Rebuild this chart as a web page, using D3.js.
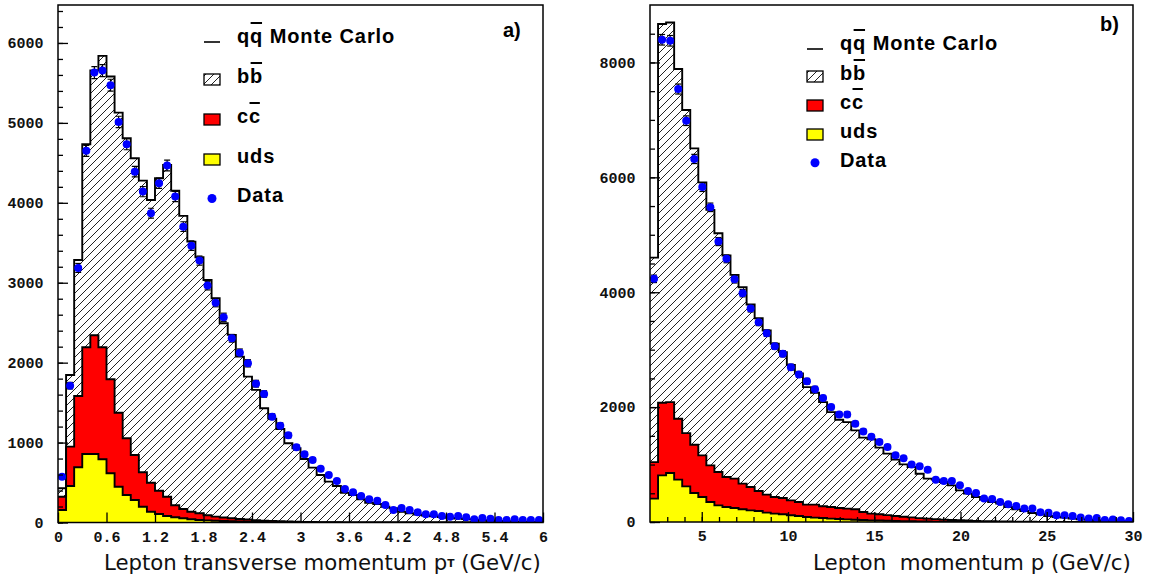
<!DOCTYPE html>
<html><head><meta charset="utf-8">
<script src="https://cdn.jsdelivr.net/npm/d3@7"></script>
<style>body{margin:0;background:#fff}svg{display:block}</style>
</head><body>
<svg id="c" width="1149" height="582"></svg>
<script>
// ---------------- data: panel a) lepton pT, 60 bins 0..6 GeV/c ----------------
const leftRange = [0, 6];
const leftUds = [156,457,691,857,857,791,616,448,344,282,198,135,106,81,65,53,40,31,26,22,18,15,12,10,8,6,5,4,3,2,2,1,1,1,0,0,0,0,0,0,0,0,0,0,0,0,0,0,0,0,0,0,0,0,0,0,0,0,0,0];
const leftCc = [167,492,892,1336,1486,1402,1176,926,710,563,430,363,292,242,150,116,95,84,64,51,45,38,32,27,22,18,15,12,10,8,6,5,4,3,3,2,2,1,1,1,0,0,0,0,0,0,0,0,0,0,0,0,0,0,0,0,0,0,0,0];
const leftBb = [105,897,1702,2540,3312,3646,3788,3755,3754,3713,3650,3538,3910,4151,3935,3667,3379,3204,2945,2733,2430,2294,2031,1788,1630,1406,1280,1154,978,919,787,680,589,507,454,371,342,289,247,231,198,178,135,115,100,88,78,68,58,50,42,36,30,25,20,16,13,10,8,6];
const leftData = [573,1712,3185,4650,5630,5655,5472,5012,4733,4390,4140,3870,4245,4466,4078,3702,3464,3277,2964,2751,2568,2305,2125,1992,1737,1608,1324,1212,1091,941,853,782,673,594,519,419,378,332,290,273,219,156,181,156,128,103,103,81,73,81,65,40,56,48,31,31,40,31,31,31];
const leftErr = [24,41,56,68,75,75,74,71,69,66,64,62,65,67,64,61,59,57,54,52,51,48,46,45,42,40,36,35,33,31,29,28,26,24,23,20,19,18,17,17,15,12,13,12,11,10,10,9,9,9,8,6,7,7,6,6,6,6,6,6];
const leftXTicks = [0,0.6,1.2,1.8,2.4,3,3.6,4.2,4.8,5.4,6];
const leftYTicks = [0,1000,2000,3000,4000,5000,6000];
const leftYMax = 6475;

// ---------------- data: panel b) lepton p, 60 bins 2..30 GeV/c ----------------
const rightRange = [2, 30];
const rightUds = [407,812,852,737,621,504,435,348,290,261,243,221,203,191,163,146,134,117,104,87,77,70,59,52,46,40,34,29,25,21,18,15,12,10,8,6,5,4,3,2,2,1,1,1,0,0,0,0,0,0,0,0,0,0,0,0,0,0,0,0];
const rightCc = [636,1265,1235,1061,927,842,725,638,580,522,512,447,406,348,314,289,283,260,244,216,226,203,202,191,187,181,140,117,109,99,87,77,68,58,50,44,37,32,27,23,18,15,11,9,8,6,5,4,3,2,2,1,1,1,0,0,0,0,0,0];
const rightBb = [3560,6591,6609,6087,5624,5158,4753,4447,4156,3855,3547,3419,3177,3009,2857,2668,2540,2357,2238,2045,1947,1814,1652,1538,1506,1374,1294,1294,1160,1070,980,911,877,773,697,687,654,602,521,469,415,374,336,310,253,215,186,153,131,102,85,76,58,47,40,32,25,18,12,8];
const rightData = [4233,8395,8377,7537,6986,6320,5830,5478,4882,4581,4226,3983,3717,3478,3287,3061,2929,2696,2569,2450,2313,2157,2000,1873,1873,1711,1577,1484,1391,1304,1160,1108,1003,969,911,737,713,713,638,539,504,407,400,348,308,278,233,233,169,163,117,117,104,77,59,70,35,42,30,17];
const rightErr = [65,92,92,87,84,80,76,74,70,68,65,63,61,59,57,55,54,52,51,49,48,46,45,43,43,41,40,39,37,36,34,33,32,31,30,27,27,27,25,23,22,20,20,19,18,17,15,15,13,13,11,11,10,9,8,8,6,6,5,4];
const rightXTicks = [5,10,15,20,25,30];
const rightYTicks = [0,2000,4000,6000,8000];
const rightYMax = 9000;

const legendLabels = [
  {text: "qq Monte Carlo", bar: 1, kind: "line"},
  {text: "bb", bar: 1, kind: "bb"},
  {text: "cc", bar: 1, kind: "cc"},
  {text: "uds", bar: -1, kind: "uds"},
  {text: "Data", bar: -1, kind: "data"}
];

const COL = {uds: "#ffff00", cc: "#ff0000", bb: "url(#hatch)", data: "#0000ff"};

const svg = d3.select("#c");
const defs = svg.append("defs");
const pat = defs.append("pattern").attr("id", "hatch")
  .attr("patternUnits", "userSpaceOnUse").attr("width", 8).attr("height", 8);
pat.append("rect").attr("width", 8).attr("height", 8).attr("fill", "#fff");
pat.append("path").attr("d", "M-2,2L2,-2M0,8L8,0M6,10L10,6")
  .attr("stroke", "#222").attr("stroke-width", 1);

function panel(cfg) {
  const g = svg.append("g");
  const x = d3.scaleLinear().domain(cfg.xRange).range([cfg.left, cfg.right]);
  const y = d3.scaleLinear().domain([0, cfg.yMax]).range([cfg.bottom, cfg.top]);
  const n = cfg.data.length;
  const bw = (cfg.xRange[1] - cfg.xRange[0]) / n;
  const edge = i => x(cfg.xRange[0] + i * bw);
  const clipId = "clip" + cfg.id;
  defs.append("clipPath").attr("id", clipId).append("rect")
    .attr("x", cfg.left).attr("y", cfg.top)
    .attr("width", cfg.right - cfg.left).attr("height", cfg.bottom - cfg.top);
  const pg = g.append("g").attr("clip-path", `url(#${clipId})`);

  const rows = d3.range(n).map(i => ({uds: cfg.uds[i], cc: cfg.cc[i], bb: cfg.bb[i]}));
  const stacked = d3.stack().keys(["uds", "cc", "bb"])(rows);
  const idx = d3.range(n + 1);
  const at = (layer, i) => layer[Math.min(i, n - 1)];
  stacked.forEach(layer => {
    const area = d3.area().curve(d3.curveStepAfter)
      .x(i => edge(i)).y0(i => y(at(layer, i)[0])).y1(i => y(at(layer, i)[1]));
    pg.append("path").attr("d", area(idx)).attr("fill", COL[layer.key]);
  });
  stacked.forEach(layer => {
    const line = d3.line().curve(d3.curveStepAfter)
      .x(i => edge(i)).y(i => y(at(layer, i)[1]));
    pg.append("path").attr("d", line(idx)).attr("fill", "none")
      .attr("stroke", "#000").attr("stroke-width", 1.9);
  });

  // data with error bars
  const cx = i => x(cfg.xRange[0] + (i + 0.5) * bw);
  const eg = pg.append("g").attr("stroke", "#000").attr("stroke-width", 1.2);
  cfg.data.forEach((d, i) => {
    const e = cfg.err[i];
    eg.append("line").attr("x1", cx(i)).attr("x2", cx(i)).attr("y1", y(d - e)).attr("y2", y(d + e));
    eg.append("line").attr("x1", cx(i) - 3).attr("x2", cx(i) + 3).attr("y1", y(d - e)).attr("y2", y(d - e));
    eg.append("line").attr("x1", cx(i) - 3).attr("x2", cx(i) + 3).attr("y1", y(d + e)).attr("y2", y(d + e));
  });
  pg.append("g").selectAll("circle").data(cfg.data).join("circle")
    .attr("cx", (d, i) => cx(i)).attr("cy", d => y(d)).attr("r", 4)
    .attr("fill", COL.data);

  // axes
  const fmt = v => String(v);
  const xa = g.append("g").attr("transform", `translate(0,${cfg.bottom})`)
    .call(d3.axisBottom(x).tickValues(cfg.xTicks).tickFormat(fmt).tickSizeInner(-10).tickSizeOuter(0).tickPadding(8.5));
  if (cfg.xMinor) {
    g.append("g").attr("transform", `translate(0,${cfg.bottom})`)
      .call(d3.axisBottom(x).tickValues(cfg.xMinor).tickFormat("").tickSizeInner(-5).tickSizeOuter(0))
      .select(".domain").remove();
  }
  const ya = g.append("g").attr("transform", `translate(${cfg.left},0)`)
    .call(d3.axisLeft(y).tickValues(cfg.yTicks).tickFormat(fmt).tickSizeInner(-10).tickSizeOuter(0).tickPadding(14.5));
  g.append("g").attr("transform", `translate(${cfg.left},0)`)
    .call(d3.axisLeft(y).tickValues(cfg.yMinor).tickFormat("").tickSizeInner(-5).tickSizeOuter(0))
    .select(".domain").remove();
  [xa, ya].forEach(a => {
    a.select(".domain").remove();
    a.selectAll("text").attr("font-family", "Liberation Mono, DejaVu Sans Mono, monospace")
      .attr("font-size", 15).attr("font-weight", "bold").attr("fill", "#111");
  });
  g.selectAll(".tick line").attr("stroke", "#000").attr("stroke-width", 1.3);

  // frame
  g.append("rect").attr("x", cfg.left).attr("y", cfg.top)
    .attr("width", cfg.right - cfg.left).attr("height", cfg.bottom - cfg.top)
    .attr("fill", "none").attr("stroke", "#000").attr("stroke-width", 1.5);

  // axis title
  const t = g.append("text").attr("x", cfg.titleX).attr("y", cfg.titleY)
    .attr("font-family", "DejaVu Sans, sans-serif").attr("font-size", 20).attr("fill", "#111")
    .style("white-space", "pre");
  cfg.title.forEach(p => {
    const ts = t.append("tspan").text(p.t);
    if (p.sub) ts.attr("font-size", 10).attr("font-weight", "bold").attr("dy", -2.5).attr("class", "sub");
    if (p.after) ts.attr("dy", 2.5);
  });
  const w = t.node().getComputedTextLength();
  const s = cfg.titleW / w;
  t.attr("font-size", 20 * s);
  t.selectAll("tspan.sub").attr("font-size", 10 * s);

  // panel tag
  g.append("text").attr("x", cfg.tagX).attr("y", cfg.tagY).text(cfg.tag)
    .attr("font-family", "Liberation Sans, Arial, sans-serif").attr("font-weight", "bold")
    .attr("font-size", 20).attr("fill", "#000");

  // legend
  const lg = g.append("g");
  legendLabels.forEach((L, k) => {
    const by = cfg.legBase[k];
    const mx = cfg.legMarkX;
    if (L.kind === "line") {
      lg.append("line").attr("x1", mx).attr("x2", mx + 16).attr("y1", by - 1).attr("y2", by - 1)
        .attr("stroke", "#000").attr("stroke-width", 1.6);
    } else if (L.kind === "data") {
      lg.append("circle").attr("cx", mx + 8).attr("cy", by - cfg.dotOff).attr("r", 4.5).attr("fill", COL.data);
    } else {
      lg.append("rect").attr("x", mx).attr("y", by - 9).attr("width", 16).attr("height", 11)
        .attr("fill", COL[L.kind]).attr("stroke", "#000").attr("stroke-width", 1.3);
    }
    const tx = lg.append("text").attr("x", cfg.legTextX).attr("y", by).text(L.text)
      .attr("font-family", "Liberation Sans, Arial, sans-serif").attr("font-weight", "bold")
      .attr("font-size", 20).attr("letter-spacing", 0.9).attr("fill", "#000");
    if (L.bar >= 0) {
      const node = tx.node();
      const a = node.getStartPositionOfChar(L.bar).x;
      const b = node.getEndPositionOfChar(L.bar).x;
      lg.append("line").attr("x1", a + 0.5).attr("x2", b - 1.2).attr("y1", by - 20).attr("y2", by - 20)
        .attr("stroke", "#000").attr("stroke-width", 2);
    }
  });
}

panel({
  id: "L", xRange: leftRange, yMax: leftYMax,
  left: 58, right: 543, top: 5, bottom: 522.5,
  uds: leftUds, cc: leftCc, bb: leftBb, data: leftData, err: leftErr,
  xTicks: leftXTicks, xMinor: null, yTicks: leftYTicks, yMinor: d3.range(0, leftYMax, 200),
  title: [{t: "Lepton transverse momentum p"}, {t: "T", sub: true}, {t: " (GeV/c)", after: true}],
  titleX: 104, titleY: 569.5, titleW: 437,
  tag: "a)", tagX: 503, tagY: 37,
  legBase: [43, 83, 123, 163, 202], legMarkX: 204, legTextX: 237, dotOff: 3.5
});

panel({
  id: "R", xRange: rightRange, yMax: rightYMax,
  left: 650, right: 1133, top: 5, bottom: 522,
  uds: rightUds, cc: rightCc, bb: rightBb, data: rightData, err: rightErr,
  xTicks: rightXTicks, xMinor: d3.range(3, 30, 1), yTicks: rightYTicks, yMinor: d3.range(0, rightYMax, 500),
  title: [{t: "Lepton  momentum p (GeV/c)"}],
  titleX: 813, titleY: 569.5, titleW: 318,
  tag: "b)", tagX: 1100, tagY: 31,
  legBase: [50, 80, 109, 138, 167], legMarkX: 807, legTextX: 840, dotOff: 4.3
});
</script>
</body></html>
